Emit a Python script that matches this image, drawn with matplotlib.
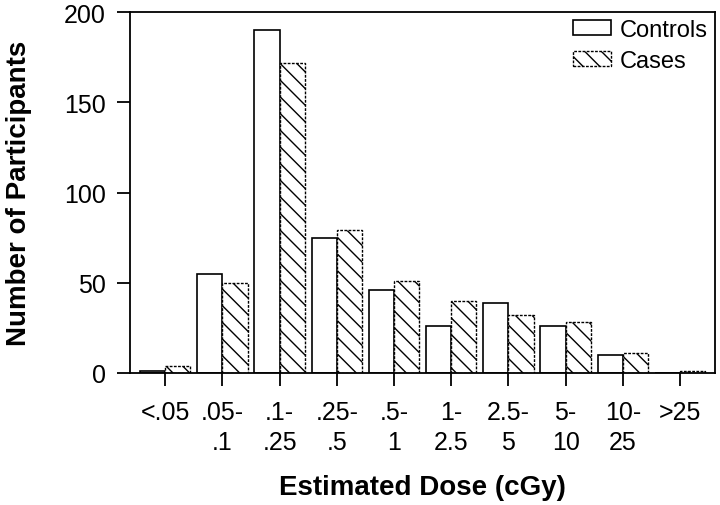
import numpy as np
from matplotlib import pyplot as plt

plt.rcParams['font.family'] = ['Liberation Sans', 'DejaVu Sans']

# data
dose_labels = ["<.05", ".05-\n.1", ".1-\n.25", ".25-\n.5", ".5-\n1", "1-\n2.5", "2.5-\n5", "5-\n10", "10-\n25", ">25"]
controls = [1, 55, 190, 75, 46, 26, 39, 26, 10, 0]
cases = [4, 50, 172, 79, 51, 40, 32, 28, 11, 1]

fig = plt.figure(figsize=(7.2, 5.06), dpi=100)
ax = fig.add_axes([0.181, 0.261, 0.812, 0.713])

x = np.arange(len(dose_labels))
w = 0.44
ax.bar(x - w / 2, controls, width=w, facecolor='white', edgecolor='black', linewidth=1.2, label="Controls")
ax.bar(x + w / 2, cases, width=w, facecolor='white', edgecolor='black', linewidth=1.0,
       linestyle=(0, (2, 1)), hatch='\\\\', label="Cases")

ax.set_xlim(-0.61, 9.61)
ax.set_ylim(0, 200)
ax.set_xticks(x)
ax.set_xticklabels(dose_labels, fontsize=18, linespacing=1.32)
ax.set_yticks([0, 50, 100, 150, 200])
ax.tick_params(axis='both', labelsize=18, length=9.5, width=1.3, direction='out')
ax.tick_params(axis='x', pad=10)
ax.tick_params(axis='y', pad=8)
for s in ax.spines.values():
    s.set_linewidth(1.3)

ax.set_xlabel("Estimated Dose (cGy)", fontsize=20, fontweight='bold')
ax.set_ylabel("Number of Participants", fontsize=20, fontweight='bold')
ax.xaxis.set_label_coords(0.5, -0.28)
ax.yaxis.set_label_coords(-0.169, 0.5)

ax.legend(loc='upper right', frameon=False, fontsize=17, handlelength=1.6, handleheight=0.6,
          handletextpad=0.38, borderaxespad=0.0, borderpad=0.3, labelspacing=0.38)

plt.savefig("out.png")
